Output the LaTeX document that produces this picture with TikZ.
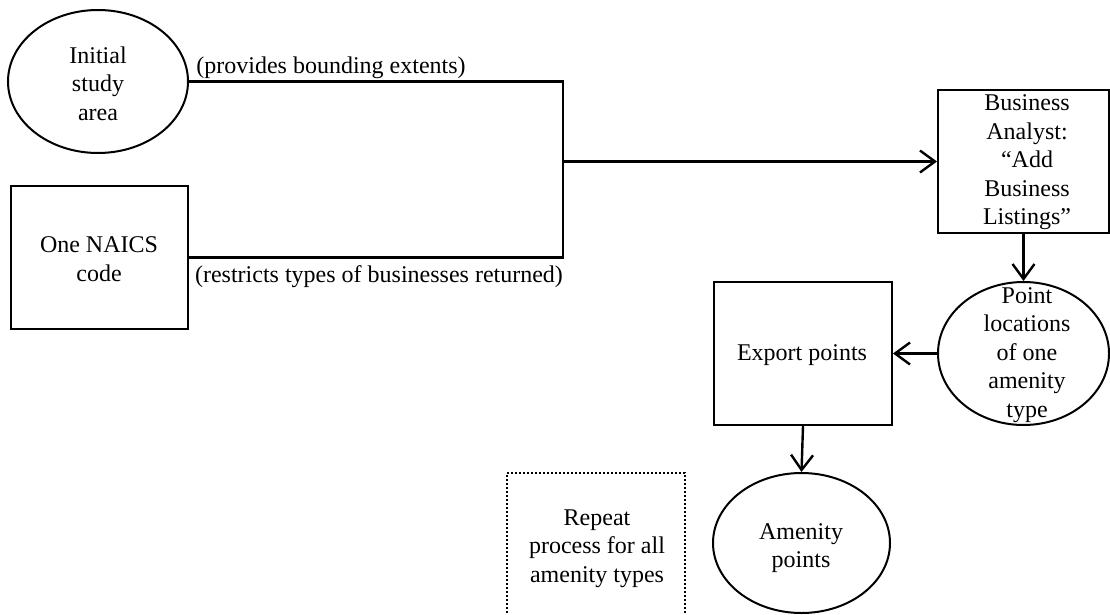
\documentclass[tikz,border=0pt]{standalone}
\usepackage{fontspec}
\setmainfont{Liberation Serif}
\usetikzlibrary{shapes.geometric,arrows.meta}
\begin{document}
\begin{tikzpicture}[x=1pt,y=-1pt,
  txt/.style={font=\fontsize{24}{28.5}\selectfont, align=center, inner sep=0pt},
  shp/.style={draw, line width=2pt, inner sep=0pt},
  procbox/.style={shp, rectangle},
  databox/.style={shp, ellipse},
  notebox/.style={draw, line width=2pt, dotted, inner sep=0pt, rectangle},
  link/.style={line width=2.4pt},
  flow/.style={link, -{Straight Barb[length=15pt,width=22pt]}}]
\useasboundingbox (0,0) rectangle (1110,615);
\clip (0,0) rectangle (1110,615);

% shapes
\node[databox, minimum width=180pt, minimum height=143pt] (study) at (98,81.5) {};
\node[procbox, minimum width=177pt, minimum height=143pt] (naics) at (99.5,257.5) {};
\node[procbox, minimum width=171pt, minimum height=143pt] (ba) at (1023.5,161.5) {};
\node[databox, minimum width=171pt, minimum height=143pt] (pts) at (1023.5,353.5) {};
\node[procbox, minimum width=178pt, minimum height=143pt] (exp) at (803,353.5) {};
\node[databox, minimum width=177pt, minimum height=140pt] (amen) at (801.5,543) {};
\node[notebox, minimum width=178pt, minimum height=146pt] (rep) at (596,546) {};

% texts
\node[txt] at (98,83.5) {Initial\\study\\area};
\node[txt] at (99,259) {One NAICS\\code};
\node[txt] at (1027,162.5) {Business\\Analyst:\\“Add\\Business\\Listings”};
\node[txt] at (1027,355) {Point\\locations\\of one\\amenity\\type};
\node[txt] at (802,355) {Export points};
\node[txt] at (801,548) {Amenity\\points};
\node[txt] at (597,548.5) {Repeat\\process for all\\amenity types};

% connectors
\coordinate (jt) at (563,81.5);
\coordinate (jm) at (563,161.5);
\coordinate (jb) at (563,257.5);
\draw[link] (study.east) -- (jt) -- (jb) -- (naics.east);
\draw[flow] (jm) -- (ba.west);
\draw[flow] (ba.south) -- (pts.north);
\draw[flow] (pts.west) -- (exp.east);
\draw[flow] (exp.south) -- (amen.north);

% connector labels
\node[txt] at (331,68) {(provides bounding extents)};
\node[txt] at (379,277) {(restricts types of businesses returned)};
\end{tikzpicture}
\end{document}
